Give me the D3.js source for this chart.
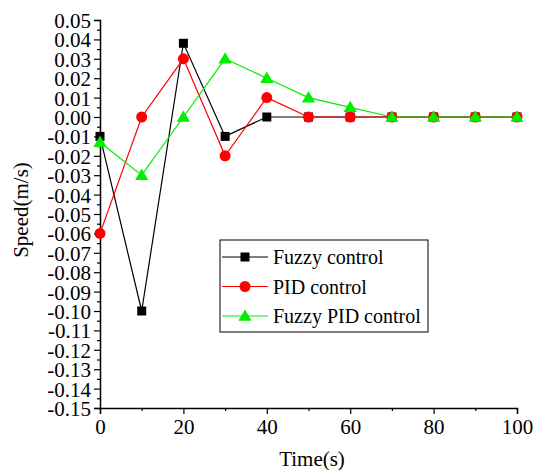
<!DOCTYPE html>
<html><head><meta charset="utf-8">
<script src="https://cdn.jsdelivr.net/npm/d3@7"></script>
<style>body{margin:0;background:#fff}svg{display:block}svg text{font-family:"Liberation Serif","Times New Roman",Times,serif !important}</style>
</head><body>
<svg id="c" width="536" height="470"></svg>
<script>
const times = [0,10,20,30,40,50,60,70,80,90,100];
const fuzzy = [-0.01,-0.10,0.038,-0.01,0,0,0,0,0,0,0];
const pid = [-0.06,0,0.03,-0.02,0.01,0,0,0,0,0,0];
const fuzzyPid = [-0.013,-0.03,0,0.03,0.02,0.01,0.005,0,0,0,0];
const seriesNames = ["Fuzzy control","PID control","Fuzzy PID control"];
const seriesColors = ["#000000","#ff0000","#00ee00"];
const yTicks = d3.range(-15,6).map(d=>d/100);
const xTicks = [0,20,40,60,80,100];

const svg = d3.select("#c");
const x = d3.scaleLinear().domain([0,100]).range([100,517]);
const y = d3.scaleLinear().domain([-0.15,0.05]).range([408,20]);

// axes
const xa = svg.append("g").attr("transform","translate(0,408)")
  .call(d3.axisBottom(x).tickValues(xTicks).tickSize(6).tickPadding(5).tickFormat(d3.format("d")));
const xm = svg.append("g").attr("transform","translate(0,408)")
  .call(d3.axisBottom(x).tickValues(d3.range(10,100,20)).tickSize(3).tickFormat(""));
const ya = svg.append("g").attr("transform","translate(100,0)")
  .call(d3.axisLeft(y).tickValues(yTicks).tickSize(6).tickPadding(3).tickFormat(d=>{const s=Math.abs(d).toFixed(2);return (d< -1e-9?"-":"")+s;}));
const ym = svg.append("g").attr("transform","translate(100,0)")
  .call(d3.axisLeft(y).tickValues(d3.range(-0.145,0.05,0.01)).tickSize(3).tickFormat(""));
[xa,xm,ya,ym].forEach(g=>{g.attr("font-family",null);g.select(".domain").attr("stroke","#000").attr("stroke-width",1.5);
  g.selectAll(".tick line").attr("stroke","#000").attr("stroke-width",1.2);
  g.selectAll("text").attr("font-size",21).attr("fill","#000");});
xm.select(".domain").remove(); ym.select(".domain").remove();
ya.selectAll("text").attr("dy","0.36em");

svg.append("text").attr("x",312).attr("y",466).attr("text-anchor","middle").attr("font-size",21).text("Time(s)");
svg.append("text").attr("transform","translate(28,210) rotate(-90)").attr("text-anchor","middle").attr("font-size",21).text("Speed(m/s)");

const all = [fuzzy,pid,fuzzyPid];
const line = d3.line().x((d,i)=>x(times[i])).y(d=>y(d));
function marker(g,k,cx,cy,col){
  if(k===0) g.append("rect").attr("x",cx-4.5).attr("y",cy-4.5).attr("width",9).attr("height",9).attr("fill",col);
  else if(k===1) g.append("circle").attr("cx",cx).attr("cy",cy).attr("r",5.5).attr("fill",col);
  else g.append("path").attr("d",d3.symbol().type(d3.symbolTriangle).size(75)()).attr("transform",`translate(${cx},${cy+1})`).attr("fill",col);
}
all.forEach((s,k)=>{
  const g = svg.append("g");
  g.append("path").datum(s).attr("d",line).attr("fill","none").attr("stroke",seriesColors[k]).attr("stroke-width",1.2);
  s.forEach((v,i)=>marker(g,k,x(times[i]),y(v),seriesColors[k]));
});

// legend
const lg = svg.append("g");
lg.append("rect").attr("x",220).attr("y",240).attr("width",208).attr("height",92).attr("fill","#fff").attr("stroke","#000").attr("stroke-width",1);
seriesNames.forEach((n,k)=>{
  const cy = 257 + k*29.5;
  lg.append("line").attr("x1",222).attr("x2",268).attr("y1",cy).attr("y2",cy).attr("stroke",seriesColors[k]).attr("stroke-width",1.2);
  marker(lg,k,245,cy,seriesColors[k]);
  lg.append("text").attr("x",273).attr("y",cy+7).attr("font-size",20).text(n);
});
</script>
</body></html>
